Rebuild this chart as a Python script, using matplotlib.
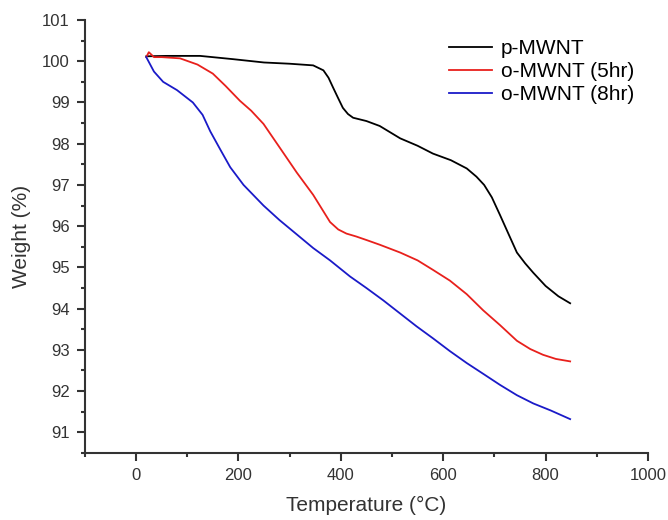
import numpy as np
import matplotlib
matplotlib.use('Agg')
import matplotlib.pyplot as plt
from matplotlib.ticker import MultipleLocator

plt.rcParams['font.family'] = ['Liberation Sans', 'DejaVu Sans']

# p-MWNT
t_p = [20, 60, 125, 190, 250, 300, 346, 366, 376, 385, 395, 404, 414, 424, 450, 476,
       516, 550, 580, 615, 646, 665, 680, 695, 711, 728, 744, 760, 776, 800, 825, 848]
w_p = [100.12, 100.13, 100.13, 100.05, 99.97, 99.94, 99.9, 99.78, 99.6, 99.36, 99.1,
       98.87, 98.72, 98.63, 98.55, 98.43, 98.13, 97.95, 97.76, 97.6, 97.4, 97.2, 97.0,
       96.7, 96.27, 95.8, 95.36, 95.1, 94.87, 94.55, 94.3, 94.13]
# o-MWNT (5hr)
t_5 = [20, 25, 35, 50, 86, 120, 150, 175, 203, 225, 249, 281, 314, 346, 379, 395, 411,
       430, 451, 476, 516, 550, 580, 613, 646, 678, 711, 744, 770, 795, 820, 848]
w_5 = [100.1, 100.22, 100.1, 100.1, 100.07, 99.92, 99.7, 99.4, 99.04, 98.8, 98.48,
       97.9, 97.3, 96.76, 96.1, 95.92, 95.82, 95.75, 95.66, 95.55, 95.36, 95.17, 94.94,
       94.68, 94.35, 93.96, 93.6, 93.22, 93.02, 92.88, 92.78, 92.72]
# o-MWNT (8hr)
t_8 = [20, 35, 53, 80, 111, 130, 145, 165, 184, 210, 249, 280, 314, 346, 379, 418,
       450, 483, 516, 548, 580, 613, 646, 678, 711, 744, 776, 810, 848]
w_8 = [100.1, 99.75, 99.5, 99.3, 99.0, 98.7, 98.3, 97.85, 97.43, 97.0, 96.5, 96.15,
       95.8, 95.47, 95.17, 94.78, 94.5, 94.2, 93.88, 93.57, 93.28, 92.97, 92.68, 92.42,
       92.15, 91.9, 91.7, 91.53, 91.32]

fig = plt.figure(figsize=(6.68, 5.2), dpi=100)
ax = fig.add_axes([0.127, 0.129, 0.843, 0.8325])

ax.plot(t_p, w_p, color='black', lw=1.3, label='p-MWNT')
ax.plot(t_5, w_5, color='#e8201c', lw=1.3, label='o-MWNT (5hr)')
ax.plot(t_8, w_8, color='#1a1ac8', lw=1.3, label='o-MWNT (8hr)')

ax.set_xlim(-100, 1000)
ax.set_ylim(90.5, 101)
ax.xaxis.set_major_locator(MultipleLocator(200))
ax.xaxis.set_minor_locator(MultipleLocator(100))
ax.yaxis.set_major_locator(MultipleLocator(1))
ax.yaxis.set_minor_locator(MultipleLocator(0.5))
ax.spines['top'].set_visible(False)
ax.spines['right'].set_visible(False)
for s in ['left', 'bottom']:
    ax.spines[s].set_linewidth(1.5)
    ax.spines[s].set_color('#333333')
ax.tick_params(which='major', direction='out', length=6, width=1.5, color='#333333',
               labelsize=12, labelcolor='#333333', pad=5)
ax.tick_params(which='minor', direction='out', length=3, width=1.5, color='#333333')

ax.set_xlabel('Temperature (°C)', fontsize=15, color='#333333', labelpad=9)
ax.set_ylabel('Weight (%)', fontsize=15, color='#333333', labelpad=8)

fig.legend(*ax.get_legend_handles_labels(), loc='upper left',
           bbox_to_anchor=(0.656, 0.945), frameon=False, fontsize=15, borderpad=0,
           handlelength=2.1, handletextpad=0.4, labelspacing=0.2)

fig.savefig('out.png', dpi=100)
